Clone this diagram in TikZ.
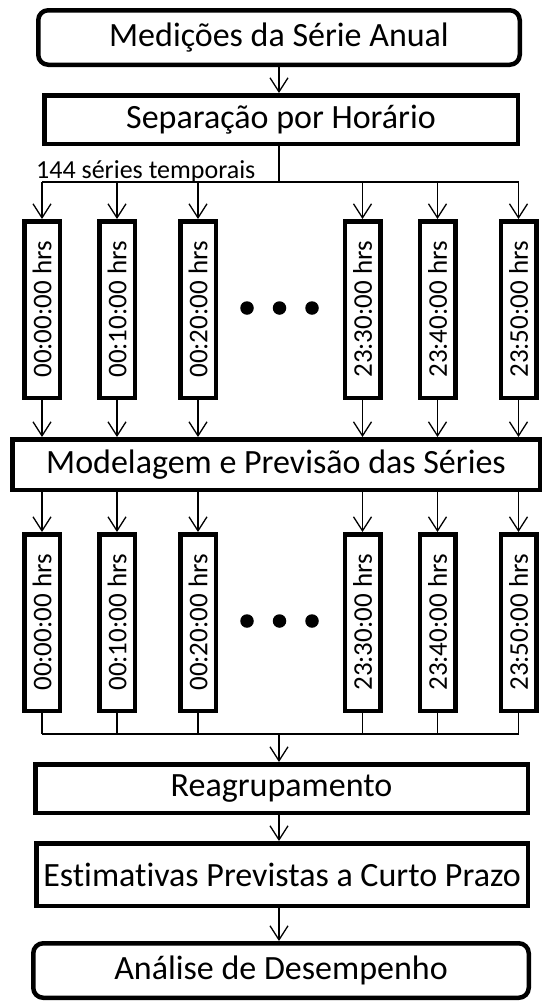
\documentclass[tikz,border=0pt]{standalone}
\usepackage{fontspec}
\setmainfont{Carlito}[Ligatures=NoCommon]
\usetikzlibrary{arrows.meta}
\begin{document}
\begin{tikzpicture}[x=1pt,y=-1pt,
  box/.style={draw=black,line width=4.5pt,inner sep=0pt,align=center,
    font=\fontsize{34}{40}\selectfont},
  rbox/.style={box,rounded corners=10pt},
  tall/.style={draw=black,line width=4.5pt,inner sep=0pt,
    minimum width=35.5pt,minimum height=176.5pt,
    font=\fontsize{27}{32}\selectfont},
  conn/.style={line width=1.3pt},
  arr/.style={line width=1.3pt,-{Straight Barb[length=14pt,width=18pt]}},
  dotmark/.style={circle,fill=black,inner sep=0pt,minimum size=13.5pt}
]
\useasboundingbox (0,0) rectangle (544,1001);

% main boxes
\node[rbox,minimum width=481.5pt,minimum height=54.5pt] (top) at (279,37.5) {Medições da Série Anual};
\node[box,minimum width=473.5pt,minimum height=48.5pt] (sep) at (281,119.5) {Separação por Horário};
\node[box,minimum width=527.5pt,minimum height=50.5pt] (mod) at (276,464.5) {Modelagem e Previsão das Séries};
\node[box,minimum width=492.5pt,minimum height=48.5pt] (reag) at (281.5,788.5) {Reagrupamento};
\node[box,minimum width=491.5pt,minimum height=62.5pt] (est) at (282,874.5) {Estimativas Previstas a Curto Prazo};
\node[rbox,minimum width=495.5pt,minimum height=54.5pt] (ana) at (281,970.5) {Análise de Desempenho};

% label
\node[anchor=base west,inner sep=0pt,font=\fontsize{26}{30}\selectfont] (lbl) at (36,178) {144 séries temporais};

% column boxes
\foreach \i/\x/\t in {1/42/00:00:00,2/117/00:10:00,3/198/00:20:00,4/362.5/23:30:00,5/437.5/23:40:00,6/518.5/23:50:00}{
  \node[tall] (a\i) at (\x,309.5) {\rotatebox{90}{\t\ hrs}};
  \node[tall] (b\i) at (\x,622.5) {\rotatebox{90}{\t\ hrs}};
}

% ellipsis dots
\node[dotmark] (d1) at (247,308) {};
\node[dotmark] (d2) at (279.5,308) {};
\node[dotmark] (d3) at (312,308) {};
\node[dotmark] (e1) at (247,621) {};
\node[dotmark] (e2) at (279.5,621) {};
\node[dotmark] (e3) at (312,621) {};

% connectors
\coordinate (sp) at (279,182);
\coordinate (mg) at (279,734);
\draw[arr] (top.south) -- (top.south |- sep.north);
\draw[conn] (sep.south -| sp) -- (sp);
\draw[conn] (a1.north |- sp) -- (a6.north |- sp);
\foreach \i in {1,...,6}{
  \draw[arr] (a\i.north |- sp) -- (a\i.north);
  \draw[arr] (a\i.south) -- (a\i.south |- mod.north);
  \draw[arr] (b\i.north |- mod.south) -- (b\i.north);
  \draw[conn] (b\i.south) -- (b\i.south |- mg);
}
\draw[conn] (b1.south |- mg) -- (b6.south |- mg);
\draw[arr] (mg) -- (mg |- reag.north);
\draw[arr] (reag.south -| mg) -- (mg |- est.north);
\draw[arr] (est.south -| mg) -- (mg |- ana.north);
\end{tikzpicture}
\end{document}
